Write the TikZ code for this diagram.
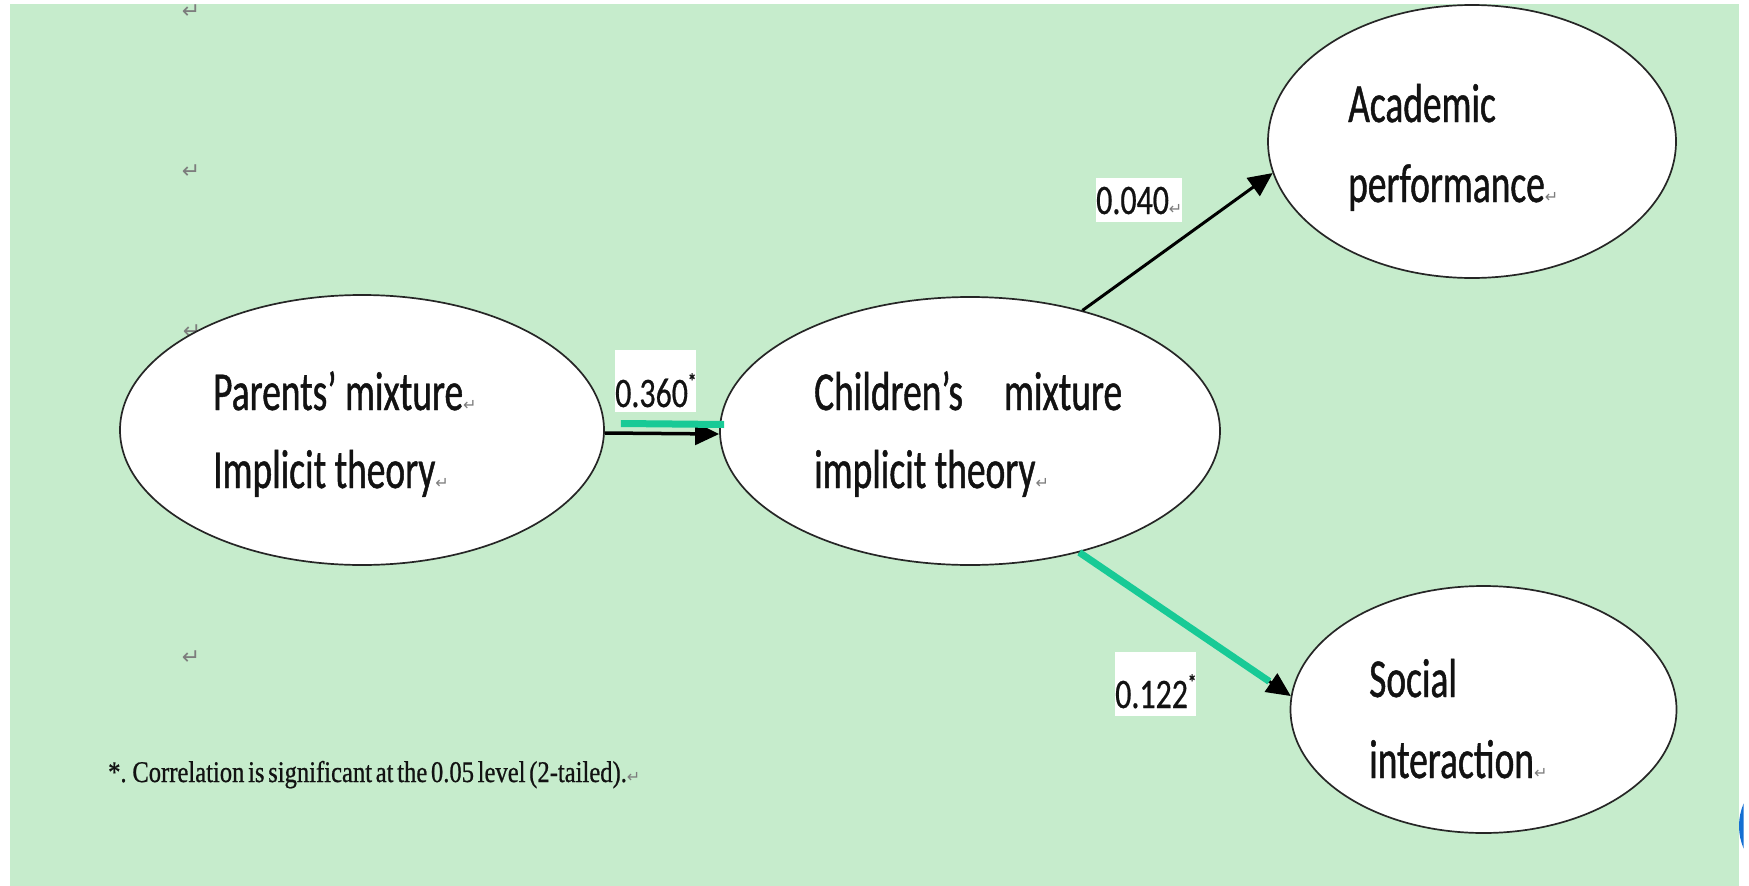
\documentclass[tikz,border=0pt]{standalone}
\usepackage{fontspec}
\setmainfont{Carlito}
\newfontfamily\mainf[FakeStretch=0.68,FakeBold=0.8]{Carlito}
\newfontfamily\labf[FakeStretch=0.76,FakeBold=0.5]{Carlito}
\newfontfamily\notef[FakeStretch=0.82,WordSpace=0.6,FakeBold=0.7]{Liberation Serif}
\newfontfamily\symf{DejaVu Sans}
\usetikzlibrary{shapes.geometric,arrows.meta}
\definecolor{bg}{RGB}{198,236,204}
\definecolor{tealc}{RGB}{24,202,150}
\definecolor{markc}{RGB}{125,125,125}
\definecolor{bluec}{RGB}{20,110,210}
\definecolor{txt}{RGB}{18,18,18}
\newcommand{\parmark}{{\symf\fontsize{16}{16}\selectfont\color{markc}↵}}
\newcommand{\sigstar}{\raisebox{18pt}{\fontsize{22}{22}\selectfont\bfseries *}}
\begin{document}
\begin{tikzpicture}[x=1pt,y=-1pt,
  ell/.style={ellipse, draw=black!85, line width=1.7pt, fill=white, inner sep=0pt},
  big/.style={anchor=base west, inner sep=0pt, font=\mainf\fontsize{55}{55}\selectfont, text=txt},
  lab/.style={anchor=base west, inner sep=0pt, fill=white, font=\labf\fontsize{42}{42}\selectfont, text=txt},
  conn/.style={line width=3.5pt, -{Triangle[length=24pt,width=22pt]}},
  bar/.style={tealc, line width=7pt},
  pmk/.style={inner sep=0pt, font=\symf\fontsize{22}{22}\selectfont, text=markc},
  note/.style={anchor=base west, inner sep=0pt, font=\notef\fontsize{30}{30}\selectfont, text=txt}
]
\useasboundingbox (0,0) rectangle (1749,886);
\fill[bg] (10,4) rectangle (1739,886);
\begin{scope}
\clip (1739,790) rectangle (1743.5,860);
\fill[bluec] (1796,826) circle [radius=57pt];
\end{scope}

% margin paragraph marks
\node[pmk] (m1) at (191,12) {↵};
\node[pmk] (m2) at (191,172) {↵};
\node[pmk] (m3) at (192,332) {↵};
\node[pmk] (m4) at (191,658) {↵};

% ellipses
\node[ell, minimum width=484pt, minimum height=270pt] (par) at (362,430) {};
\node[ell, minimum width=500pt, minimum height=268pt] (chi) at (970,431) {};
\node[ell, minimum width=408pt, minimum height=273pt] (aca) at (1472,141.5) {};
\node[ell, minimum width=386pt, minimum height=247pt] (soc) at (1483.5,709.5) {};

% texts
\node[big] (p1) at (213,410) {Parents’ mixture\parmark};
\node[big] (p2) at (213,488) {Implicit theory\parmark};
\node[big] (c1) at (814,410) {Children’s\hspace{41pt}mixture};
\node[big] (c2) at (814,488) {implicit theory\parmark};
\node[big] (a1) at (1348,122) {Academic};
\node[big] (a2) at (1348,202) {performance\parmark};
\node[big] (s1) at (1369,697) {Social};
\node[big] (s2) at (1369,778) {interaction\parmark};

% connectors
\draw[conn] ([yshift=-3pt]par.east) -- ([yshift=-3pt]chi.west);
\draw[conn, line width=3pt] (chi.47.5) -- (aca.189.6);
\draw[conn, line width=3pt] (chi.-48) -- (soc.176.3);
\draw[bar, shorten >=26pt] (chi.-48) -- (soc.176.3);
\draw[bar] ([shift={(16pt,6.5pt)}]par.east) -- ([shift={(5pt,6.5pt)}]chi.west);

% coefficient labels
\node[lab, text height=57pt, text depth=5pt] (l1) at (615,407) {0.360\sigstar\hspace{2pt}};
\node[lab, text height=36pt, text depth=8pt] (l2) at (1096,214) {0.040\parmark};
\node[lab, text height=56pt, text depth=8pt] (l3) at (1115,708) {0.122\sigstar\hspace{12pt}};

% footnote
\node[note] (fn) at (108,782) {*. Correlation is significant at the 0.05 level (2-tailed).\parmark};
\end{tikzpicture}
\end{document}
